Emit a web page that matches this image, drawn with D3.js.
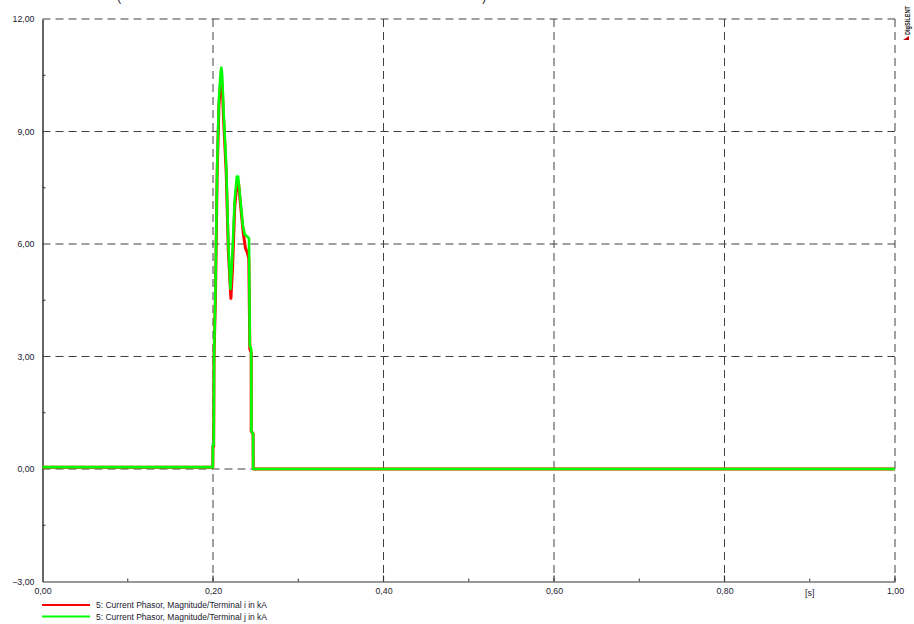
<!DOCTYPE html>
<html><head><meta charset="utf-8">
<script src="https://cdn.jsdelivr.net/npm/d3@7"></script>
<style>body{margin:0;background:#fff;}svg{display:block;font-family:"Liberation Sans",Arial,sans-serif;}</style>
</head><body>
<svg id="c" width="914" height="624"></svg>
<script>
const xTicks = [0, 0.2, 0.4, 0.6, 0.8, 1.0];
const xMinor = [0.1, 0.3, 0.5, 0.7, 0.9];
const yTicks = [-3, 0, 3, 6, 9, 12];
const yMinor = [-1.5, 1.5, 4.5, 7.5, 10.5];
const seriesNames = ["5: Current Phasor, Magnitude/Terminal i in kA", "5: Current Phasor, Magnitude/Terminal j in kA"];
const seriesColors = ["#ff0000", "#00ff00"];
const timeI = [0, 0.1998, 0.1999, 0.2008, 0.2012, 0.2029, 0.2049, 0.2070, 0.2092, 0.2100, 0.2110, 0.2125, 0.2155, 0.2180, 0.2210, 0.2230, 0.2255, 0.2285, 0.2300, 0.2325, 0.2355, 0.2380, 0.2405, 0.2420, 0.2432, 0.2448, 0.2448, 0.2470, 0.2472, 1.0];
const valI  = [0.05, 0.05, 0.6, 0.6, 3.0, 4.6, 7.9, 9.7, 10.4, 10.4, 10.1, 9.3, 7.9, 5.8, 4.55, 5.4, 7.0, 7.7, 7.6, 7.0, 6.3, 5.9, 5.75, 5.6, 3.2, 3.1, 1.0, 0.95, 0.0, 0.0];
const timeJ = [0, 0.1998, 0.1999, 0.2008, 0.2012, 0.2029, 0.2049, 0.2070, 0.2090, 0.2098, 0.2108, 0.2125, 0.2155, 0.2180, 0.2205, 0.2225, 0.2255, 0.2280, 0.2295, 0.2320, 0.2350, 0.2373, 0.2400, 0.2422, 0.2432, 0.2448, 0.2450, 0.2470, 0.2472, 1.0];
const valJ  = [0.05, 0.05, 0.64, 0.64, 3.0, 4.8, 8.1, 9.9, 10.6, 10.7, 10.5, 9.5, 8.1, 6.0, 4.8, 5.6, 7.2, 7.8, 7.8, 7.2, 6.5, 6.25, 6.2, 6.15, 3.3, 3.2, 1.0, 0.95, 0.0, 0.0];

const svg = d3.select("#c");
const x = d3.scaleLinear().domain([0, 1]).range([42.5, 895]);
const y = d3.scaleLinear().domain([-3, 12]).range([581.5, 19]);
const gridCol = "#404040";

// partial title (clipped at top, as in the reference)
svg.append("text").attr("x", 117).attr("y", 1).attr("font-size", 13).attr("fill", "#333").text("(");
svg.append("text").attr("x", 482).attr("y", 1).attr("font-size", 13).attr("fill", "#333").text(")");

// grid
const g = svg.append("g");
g.selectAll(".gx").data(xTicks.filter(d => d > 0)).join("line")
  .attr("x1", d => x(d)).attr("x2", d => x(d)).attr("y1", y(12)).attr("y2", y(-3))
  .attr("stroke", gridCol).attr("stroke-dasharray", "8,5").attr("stroke-width", 1);
g.selectAll(".gy").data(yTicks.filter(d => d > -3)).join("line")
  .attr("x1", x(0)).attr("x2", x(1)).attr("y1", d => y(d)).attr("y2", d => y(d))
  .attr("stroke", gridCol).attr("stroke-dasharray", "8,5").attr("stroke-width", 1);

// axes
const xAxis = d3.axisBottom(x).tickValues(xTicks).tickSize(0).tickPadding(6)
  .tickFormat(d => d3.format(".2f")(d).replace(".", ","));
const xa = svg.append("g").attr("transform", `translate(0,${y(-3)})`).call(xAxis);
xa.select(".domain").attr("stroke", "#333").attr("stroke-width", 1.2);
xa.selectAll("text").attr("font-size", 8.8).attr("fill", "#1a1a2e");
const yAxis = d3.axisLeft(y).tickValues(yTicks).tickSize(0).tickPadding(8)
  .tickFormat(d => d3.format(".2f")(d).replace(".", ","));
const ya = svg.append("g").attr("transform", `translate(${x(0)},0)`).call(yAxis);
ya.select(".domain").attr("stroke", "#333").attr("stroke-width", 1.5);
ya.selectAll("text").attr("font-size", 8.8).attr("fill", "#1a1a2e");

// major / minor ticks
svg.selectAll(".mx").data(xTicks.filter(d => d > 0)).join("line")
  .attr("x1", d => x(d)).attr("x2", d => x(d)).attr("y1", y(-3)).attr("y2", y(-3) - 6)
  .attr("stroke", "#333").attr("stroke-width", 1.2);
svg.selectAll(".nx").data(xMinor).join("line")
  .attr("x1", d => x(d)).attr("x2", d => x(d)).attr("y1", y(-3)).attr("y2", y(-3) - 3)
  .attr("stroke", "#333").attr("stroke-width", 1);
svg.selectAll(".ny").data(yMinor).join("line")
  .attr("x1", x(0)).attr("x2", x(0) + 3).attr("y1", d => y(d)).attr("y2", d => y(d))
  .attr("stroke", "#333").attr("stroke-width", 1);
svg.append("text").attr("x", x(0.9)).attr("y", y(-3) + 14).attr("text-anchor", "middle")
  .attr("font-size", 8.8).attr("fill", "#1a1a2e").text("[s]");

// series
const line = d3.line().x(d => x(d[0])).y(d => y(d[1]));
const dataI = timeI.map((t, i) => [t, valI[i]]);
const dataJ = timeJ.map((t, i) => [t, valJ[i]]);
svg.append("path").datum(dataI).attr("d", line).attr("fill", "none")
  .attr("stroke", seriesColors[0]).attr("stroke-width", 3).attr("stroke-linejoin", "round");
svg.append("path").datum(dataJ).attr("d", line).attr("fill", "none")
  .attr("stroke", seriesColors[1]).attr("stroke-width", 2.6).attr("stroke-linejoin", "round");

// legend
const lg = svg.append("g");
seriesNames.forEach((n, i) => {
  const yy = 605 + i * 11.5;
  lg.append("line").attr("x1", 42).attr("x2", 90).attr("y1", yy).attr("y2", yy)
    .attr("stroke", seriesColors[i]).attr("stroke-width", 2.2);
  lg.append("text").attr("x", 96).attr("y", yy + 3).attr("font-size", 8.5).attr("fill", "#1a1a2e").text(n);
});

// logo
const lo = svg.append("g").attr("transform", "translate(910,35) rotate(-90)");
lo.append("text").attr("x", 0).attr("y", 0).attr("font-size", 6.5).attr("font-weight", "bold")
  .attr("textLength", 29).attr("lengthAdjust", "spacingAndGlyphs")
  .attr("fill", "#222").text("DIgSILENT");
svg.append("path").attr("d", "M903,40 L909,36 L909,40 Z").attr("fill", "#c00000");
</script>
</body></html>
